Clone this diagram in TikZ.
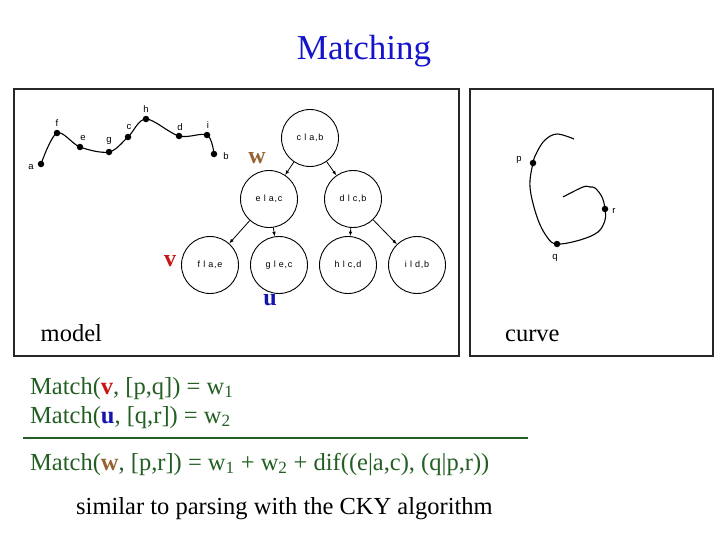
\documentclass[tikz,border=0pt]{standalone}
\usepackage{fontspec}
\setmainfont{Liberation Serif}
\newfontfamily\labelfont{Liberation Sans}
\newfontfamily\nodefont[LetterSpace=8]{Liberation Sans}
\usetikzlibrary{arrows.meta,positioning}
\definecolor{titleblue}{RGB}{20,20,205}
\definecolor{matchgreen}{RGB}{35,95,35}
\definecolor{wbrown}{RGB}{150,100,50}
\definecolor{vred}{RGB}{200,20,20}
\definecolor{ublue}{RGB}{20,20,175}

\begin{document}
\begin{tikzpicture}[x=1pt, y=-1pt,
  panel/.style={draw=black!85, line width=1.8pt},
  state/.style={circle, draw, line width=0.9pt, minimum size=57pt, inner sep=0pt, font=\nodefont\fontsize{9}{10}\selectfont},
  dot/.style={circle, fill, inner sep=0pt, minimum size=6.5pt},
  lbl/.style={font=\labelfont\fontsize{9.5}{10}\selectfont, inner sep=0pt},
  curve/.style={line width=1.1pt, line join=round},
  arrow/.style={-{Latex[length=4.5pt,width=3.5pt]}, line width=0.8pt},
  big/.style={font=\fontsize{24.5}{28}\selectfont, inner sep=0pt, anchor=base west},
  tag/.style={font=\bfseries\fontsize{24}{28}\selectfont, inner sep=0pt}
]
\useasboundingbox (0,0) rectangle (728,546);

% Title
\node[anchor=base, text=titleblue, font=\fontsize{35}{40}\selectfont] (title) at (364,59) {Matching};

% Panels
\draw[panel] (14,89) rectangle (459,356);
\draw[panel] (470,89) rectangle (713,356);
\node[big] (model) at (40.5,341) {model};
\node[big] (curvename) at (505,341) {curve};

% Model polyline
\node[dot] (a) at (41,164) {};
\node[dot] (f) at (57,133) {};
\node[dot] (e) at (80,147) {};
\node[dot] (g) at (109,152) {};
\node[dot] (c) at (128,137) {};
\node[dot] (h) at (146,119) {};
\node[dot] (d) at (179,136) {};
\node[dot] (i) at (207,135) {};
\node[dot] (b) at (214,154) {};
\draw[curve] plot[smooth, tension=0.55] coordinates {(a.center) (f.center) (e.center) (g.center) (c.center) (h.center) (d.center) (i.center) (b.center)};
\node[lbl] (la) at (31,167) {a};
\node[lbl] (lf) at (57,123) {f};
\node[lbl] (le) at (83,138) {e};
\node[lbl] (lg) at (109,141) {g};
\node[lbl] (lc) at (129,127) {c};
\node[lbl] (lh) at (146,109) {h};
\node[lbl] (ld) at (180,127) {d};
\node[lbl] (li) at (208,125) {i};
\node[lbl] (lb) at (226,156) {b};

% Tree
\node[state] (cab) at (310,138) {c l a,b};
\node[state] (eac) at (269,199) {e l a,c};
\node[state] (dcb) at (353,199) {d l c,b};
\node[state] (fae) at (210,265) {f l a,e};
\node[state] (gec) at (279,265) {g l e,c};
\node[state] (hcd) at (348,265) {h l c,d};
\node[state] (idb) at (417,265) {i l d,b};

\draw[arrow] (cab) -- (eac);
\draw[arrow] (cab) -- (dcb);
\draw[arrow] (eac) -- (fae);
\draw[arrow] (eac) -- (gec);
\draw[arrow] (dcb) -- (hcd);
\draw[arrow] (dcb) -- (idb);

\node[tag, text=wbrown] (w) at (257,158) {w};
\node[tag, text=vred] (v) at (170,261) {v};
\node[tag, text=ublue] (u) at (270,300) {u};

% Curve panel
\node[dot] (p) at (533,163) {};
\node[dot] (q) at (557,244) {};
\node[dot] (r) at (605,209) {};
\coordinate (top) at (574,139);
\coordinate (tail) at (563,197);
\draw[curve] plot[smooth, tension=0.6] coordinates {(top) (557,134) (545,140) (537,152) (p.center) (530,187) (537,217) (547,237) (q.center) (580,240) (598,232) (605,220) (r.center) (602,197) (595,188) (590,187) (583,187) (tail)};
\node[lbl] (lp) at (519,160) {p};
\node[lbl] (lq) at (555,258) {q};
\node[lbl] (lr) at (614,211) {r};

% Matching rule
\node[big, text=matchgreen] (m1) at (30,394) {Match(\textcolor{vred}{\textbf{v}}, [p,q]) = w\textsubscript{1}};
\node[big, text=matchgreen] (m2) at (30,423) {Match(\textcolor{ublue}{\textbf{u}}, [q,r]) = w\textsubscript{2}};
\coordinate (rulestart) at (23,438);
\coordinate (ruleend) at (528,438);
\draw[matchgreen, line width=1.8pt] (rulestart) -- (ruleend);
\node[big, text=matchgreen] (m3) at (30,470) {Match(\textcolor{wbrown}{\textbf{w}}, [p,r]) = w\textsubscript{1} + w\textsubscript{2} + dif((e|a,c), (q|p,r))};
\node[big] (note) at (76,514) {similar to parsing with the CKY algorithm};

\end{tikzpicture}
\end{document}
